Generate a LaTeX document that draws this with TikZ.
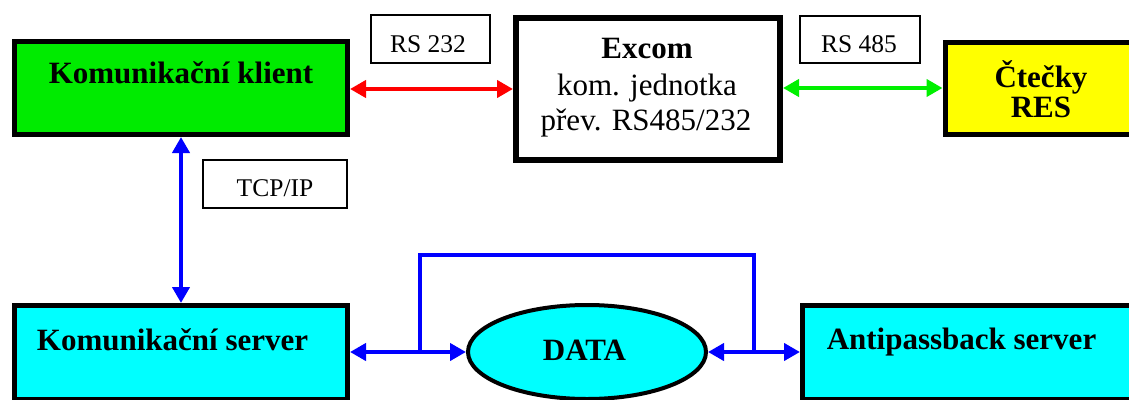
\documentclass[tikz,border=0pt]{standalone}
\usepackage{fontspec}
\setmainfont{LiberationSerif}[Extension=.ttf, UprightFont=*-Regular, BoldFont=*-Bold]
\usetikzlibrary{arrows.meta,shapes.geometric}

\definecolor{boxgreen}{RGB}{0,235,0}
\definecolor{linkgreen}{RGB}{0,240,0}
\definecolor{boxcyan}{RGB}{0,255,255}
\definecolor{boxyellow}{RGB}{255,255,0}
\definecolor{linkred}{RGB}{255,0,0}
\definecolor{linkblue}{RGB}{0,0,255}

\tikzset{
  unit/.style={draw=black, line width=5pt, inner sep=0pt, outer sep=auto},
  tagbox/.style={draw=black, line width=1.4pt, fill=white, inner sep=0pt},
  head/.style={font=\fontsize{31}{36}\selectfont\bfseries, anchor=base, inner sep=0pt},
  plain/.style={font=\fontsize{31}{36}\selectfont, anchor=base, inner sep=0pt},
  tagtext/.style={font=\fontsize{25.5}{30}\selectfont, anchor=base, inner sep=0pt},
  link/.style={line width=4.5pt, {Triangle[length=16pt,width=17pt]}-{Triangle[length=16pt,width=17pt]}},
  bus/.style={line width=4.5pt, linkblue}
}

\begin{document}
\begin{tikzpicture}[x=1pt, y=-1pt]
  \useasboundingbox (0,0) rectangle (1129,399);
  \clip (0,0) rectangle (1129,399);
  \fill[white] (0,0) rectangle (1129,399);

  % units
  \node[unit, fill=boxgreen, minimum width=333pt, minimum height=93pt] (klient) at (181,88) {};
  \node[unit, fill=white, line width=6pt, minimum width=264pt, minimum height=142pt] (excom) at (648,89) {};
  \node[unit, fill=boxyellow, minimum width=192pt, minimum height=92pt] (ctecky) at (1041,88.5) {};
  \node[unit, fill=boxcyan, minimum width=333pt, minimum height=94pt] (server) at (181,352.5) {};
  \node[unit, fill=boxcyan, minimum width=340pt, minimum height=94pt] (anti) at (972.5,352.5) {};
  \node[ellipse, draw=black, line width=4pt, fill=boxcyan, inner sep=0pt, minimum width=238pt, minimum height=94pt] (data) at (587,352) {};

  % interface tags
  \node[tagbox, minimum width=119pt, minimum height=48pt] (rs232) at (430.5,39) {};
  \node[tagbox, minimum width=120pt, minimum height=47pt] (rs485) at (860,39.5) {};
  \node[tagbox, minimum width=144pt, minimum height=48pt] (tcpip) at (275,184) {};

  % texts
  \node[head] (klientT) at (181,83) {Komunikační klient};
  \node[head] (excomA) at (647,58) {Excom};
  \node[plain] (excomB) at (647,95) {kom. jednotka};
  \node[plain] (excomC) at (646,130) {přev. RS485/232};
  \node[head] (ctecA) at (1041,87) {Čtečky};
  \node[head] (ctecB) at (1041,117) {RES};
  \node[head] (serverT) at (172.5,350) {Komunikační server};
  \node[head] (antiT) at (961.5,349) {Antipassback server};
  \node[head] (dataT) at (584.5,360) {DATA};
  \node[tagtext] (rs232T) at (428,52.5) {RS 232};
  \node[tagtext] (rs485T) at (859,52) {RS 485};
  \node[tagtext] (tcpipT) at (275,196.5) {TCP/IP};

  % links
  \draw[link, linkred] (klient.east |- 0,89) -- (excom.west |- 0,89);
  \draw[link, linkgreen] (excom.east |- 0,88) -- (ctecky.west |- 0,88);
  \draw[link, linkblue] (klient.south) -- (server.north);
  \draw[link, linkblue] (server.east |- data.west) -- (data.west);
  \draw[link, linkblue] (data.east) -- (anti.west |- data.east);

  % shared data loop
  \coordinate (jl) at (420,352);
  \coordinate (jr) at (754,352);
  \coordinate (loop) at (587,255);
  \draw[bus] (jl) |- (loop) -| (jr);
\end{tikzpicture}
\end{document}
